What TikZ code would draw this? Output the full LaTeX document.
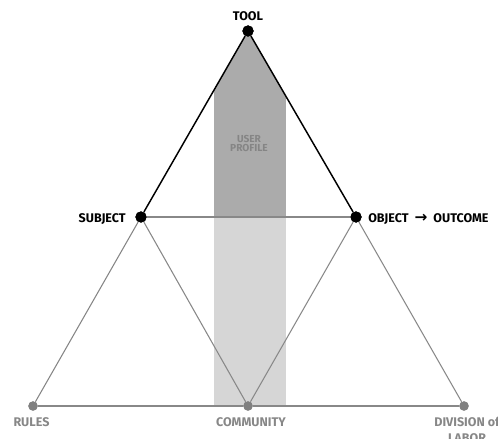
\documentclass[tikz,border=0pt]{standalone}
\usepackage{fontspec}
\setmainfont{Fira Sans}
\newfontfamily\arrowfont{DejaVu Sans}
\definecolor{bandDark}{HTML}{ABABAB}
\definecolor{bandLight}{HTML}{D6D6D6}
\definecolor{lineGray}{HTML}{888888}
\definecolor{dotGray}{HTML}{808080}
\definecolor{txtGray}{HTML}{878787}
\definecolor{profGray}{HTML}{858585}
\begin{document}
\begin{tikzpicture}[x=0.75pt,y=-0.75pt,
  blackdot/.style={circle,fill=black,inner sep=0pt,minimum size=8.4pt},
  graydot/.style={circle,fill=dotGray,inner sep=0pt,minimum size=7pt},
  darkedge/.style={black,line width=1.1pt},
  grayedge/.style={lineGray,line width=0.8pt},
  lbl/.style={font=\bfseries\fontsize{9.4}{12}\selectfont,inner sep=0pt},
  glbl/.style={lbl,text=txtGray},
  plbl/.style={font=\bfseries\fontsize{7.6}{6.6}\selectfont,text=profGray,align=center,inner sep=0pt}]
\useasboundingbox (0,0) rectangle (498,438);
% bands
\begin{scope}
  \clip (248,31) -- (141,217) -- (356,217) -- cycle;
  \fill[bandDark] (214,20) rectangle (286,217);
\end{scope}
\fill[bandLight] (214,217) rectangle (286,406);
% nodes
\node[blackdot] (tool) at (248,31) {};
\node[blackdot] (subj) at (141,217) {};
\node[blackdot] (obj) at (356,217) {};
\node[graydot] (rules) at (33,406) {};
\node[graydot] (comm) at (248,406) {};
\node[graydot] (div) at (464,406) {};
% edges
\draw[grayedge] (subj) -- (rules);
\draw[grayedge] (subj) -- (comm);
\draw[grayedge] (obj) -- (comm);
\draw[grayedge] (obj) -- (div);
\draw[grayedge] (rules) -- (comm);
\draw[grayedge] (comm) -- (div);
\draw[grayedge] (subj) -- (obj);
\draw[darkedge] (tool) -- (subj);
\draw[darkedge] (tool) -- (obj);
% redraw dots on top
\node[blackdot] at (tool) {};
\node[blackdot] at (subj) {};
\node[blackdot] at (obj) {};
\node[graydot] at (rules) {};
\node[graydot] at (comm) {};
\node[graydot] at (div) {};
% labels
\node[lbl,anchor=base] (tooll) at (248,21) {TOOL};
\node[lbl,anchor=base east] (subjl) at (126,222) {SUBJECT};
\node[lbl,anchor=base west] (objl) at (368,222) {OBJECT\hspace{4.5pt}{\arrowfont\bfseries\fontsize{11.5}{12}\selectfont →}\hspace{4.5pt}OUTCOME};
\node[glbl,anchor=base] (rulesl) at (31.5,426) {RULES};
\node[glbl,anchor=base] (comml) at (251,426) {COMMUNITY};
\node[glbl,anchor=north,align=center] (divl) at (467,417) {DIVISION of\\LABOR};
\node[plbl] (prof) at (249,143.5) {USER\\PROFILE};
\end{tikzpicture}
\end{document}
